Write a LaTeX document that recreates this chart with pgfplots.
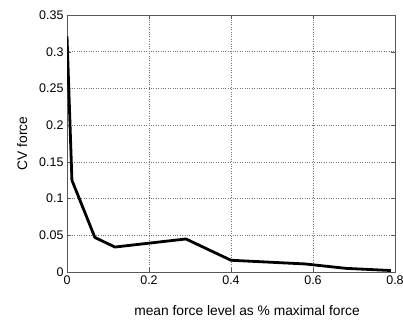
\documentclass[border=0pt]{standalone}
\usepackage{pgfplots}
\pgfplotsset{compat=1.18}
\usepackage{fontspec}
\setmainfont{Liberation Sans}
\begin{document}
\begin{tikzpicture}
\begin{axis}[
  at={(0,0)}, anchor=south west,
  scale only axis, width=328pt, height=257pt,
  xmin=0, xmax=0.8, ymin=0, ymax=0.35,
  xtick={0,0.2,0.4,0.6,0.8},
  ytick={0,0.05,0.1,0.15,0.2,0.25,0.3,0.35},
  /pgf/number format/assume math mode=true,
  yticklabel style={/pgf/number format/fixed, /pgf/number format/precision=2},
  xticklabel style={/pgf/number format/fixed},
  tick label style={font=\fontsize{12.5}{14}\selectfont},
  label style={font=\fontsize{13.8}{16}\selectfont},
  xlabel={mean force level as \% maximal force},
  ylabel={CV force},
  xlabel style={yshift=-14pt, xshift=16pt},
  ylabel style={yshift=5pt},
  grid=major,
  major grid style={dotted, gray!90!black, line width=0.7pt},
  tick align=inside,
  axis line style={gray!70!black, line width=0.7pt},
  major tick length=4pt,
  tick style={gray!70!black},
]
\addplot[black, line width=2.8pt, line join=round] coordinates {
(0,0.321) (0.012,0.125) (0.068,0.047) (0.117,0.034) (0.29,0.045) (0.4,0.016) (0.58,0.011) (0.68,0.005) (0.79,0.002)
};
\end{axis}
\pgfresetboundingbox
\path[use as bounding box] (-67pt,-50pt) rectangle (336pt,272pt);
\end{tikzpicture}
\end{document}
